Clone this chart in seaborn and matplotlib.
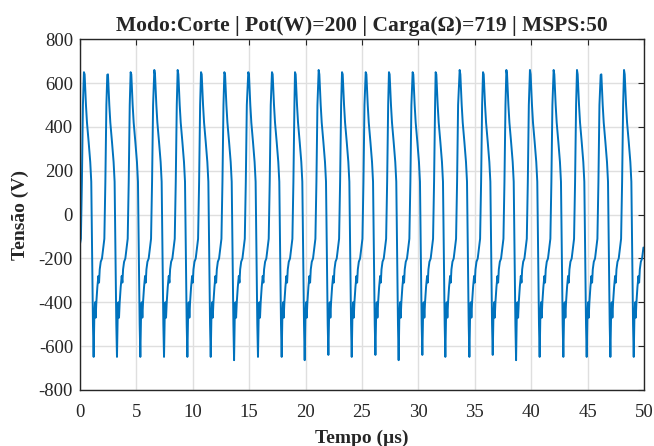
import numpy as np
import pandas as pd
import matplotlib
matplotlib.use("Agg")
import matplotlib.pyplot as plt
import seaborn as sns

# Peak times (µs), peak and trough voltages read per cycle from the picture
peak_times = [0.35, 2.42, 4.49, 6.59, 8.66, 10.73, 12.80, 14.92,
              17.02, 19.06, 21.16, 23.23, 25.33, 27.39, 29.49, 31.53,
              33.66, 35.73, 37.80, 39.89, 41.99, 44.06, 46.16, 48.23]
peak_vals = [650, 638, 650, 660, 660, 650, 650, 650,
             650, 650, 660, 650, 650, 650, 650, 650,
             660, 650, 660, 660, 660, 660, 638, 660]
trough_vals = [-649, -649, -649, -649, -649, -649, -664, -649,
               -649, -664, -640, -649, -640, -664, -640, -649,
               -649, -640, -664, -649, -649, -649, -649, -649]

# One cycle of the waveform, offsets (µs) after the peak, voltage (V)
cycle_dt = [0.00, 0.06, 0.18, 0.27, 0.42, 0.56, 0.65, 0.71, 0.80, 0.86,
            0.92, 0.98, 1.04, 1.10, 1.19, 1.28, 1.34, 1.40, 1.49, 1.60,
            1.72, 1.81, 1.90, 1.99]
cycle_v = [None, 640, 500, 420, 330, 240, 150, -100, -500, None,
           -470, -400, -470, -400, -330, -280, -310, -250, -215, -200,
           -150, -110, 150, 500]

# Start of record before the first peak
start_t = [0.0, 0.08, 0.17, 0.26]
start_v = [-134, -110, 150, 500]

t_list = list(start_t)
v_list = list(start_v)
for tp, pv, tv in zip(peak_times, peak_vals, trough_vals):
    for dt, v in zip(cycle_dt, cycle_v):
        t = tp + dt
        if t > 50.0:
            break
        if dt == 0.00:
            v = pv
        elif dt == 0.86:
            v = tv
        t_list.append(t)
        v_list.append(v)

df = pd.DataFrame({"t": t_list, "v": v_list})

sns.set_theme(style="white")
plt.rcParams["font.family"] = ["Liberation Serif", "DejaVu Serif"]
plt.rcParams["axes.unicode_minus"] = False

fig = plt.figure(figsize=(6.54, 4.46), dpi=100)
ax = fig.add_axes([0.1223, 0.1256, 0.8624, 0.7863])

sns.lineplot(data=df, x="t", y="v", ax=ax, color="#0072BD", linewidth=1.4,
             sort=False, estimator=None)

ax.set_xlim(0, 50)
ax.set_ylim(-800, 800)
ax.set_xticks(np.arange(0, 51, 5))
ax.set_yticks(np.arange(-800, 801, 200))
ax.grid(True, color="#DFDFDF", linewidth=1.0)
ax.tick_params(direction="in", length=4, width=0.8, top=True, right=True,
               labelsize=13.5, colors="#262626")
ax.tick_params(axis="x", pad=10)
ax.tick_params(axis="y", pad=5)
for s in ax.spines.values():
    s.set_color("#262626")
    s.set_linewidth(1.0)
ax.set_xlabel("Tempo (µs)", fontsize=14, fontweight="bold", labelpad=6)
ax.set_ylabel("Tensão (V)", fontsize=14, fontweight="bold", labelpad=7)
ax.set_title("Modo:Corte | Pot(W)=200 | Carga(Ω)=719 | MSPS:50",
             fontsize=15.5, fontweight="bold", pad=6)

fig.savefig("out.png", dpi=100)
